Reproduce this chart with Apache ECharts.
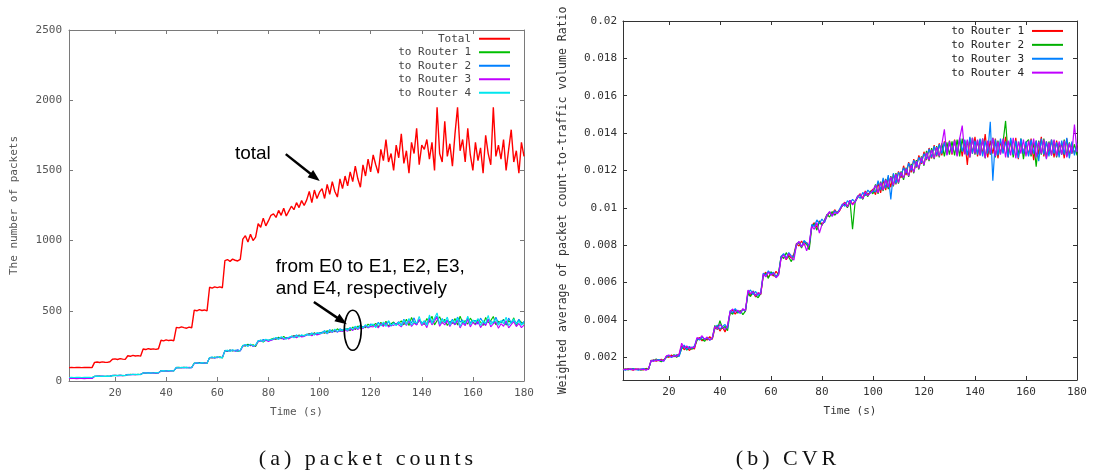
<!DOCTYPE html>
<html><head><meta charset="utf-8">
<script src="https://cdn.jsdelivr.net/npm/echarts@6/dist/echarts.min.js"></script>
<style>
html,body{margin:0;padding:0;background:#fff;}
#wrap{position:relative;width:1096px;height:470px;overflow:hidden;}
#chart{position:absolute;left:0;top:0;width:1096px;height:470px;}
.cap{position:absolute;font-family:"Liberation Serif","DejaVu Serif",serif;font-size:22px;letter-spacing:4px;line-height:22px;color:#111;white-space:nowrap;transform:translateX(-50%);}
</style></head><body>
<div id="wrap"><div id="chart"></div>
<div class="cap" style="left:368px;top:447px;">(a) packet counts</div>
<div class="cap" style="left:788px;top:447px;">(b) CVR</div>
</div>
<script>
const timeSec = [2,3,4,5,6,7,8,9,10,11,12,13,14,15,16,17,18,19,20,21,22,23,24,25,26,27,28,29,30,31,32,33,34,35,36,37,38,39,40,41,42,43,44,45,46,47,48,49,50,51,52,53,54,55,56,57,58,59,60,61,62,63,64,65,66,67,68,69,70,71,72,73,74,75,76,77,78,79,80,81,82,83,84,85,86,87,88,89,90,91,92,93,94,95,96,97,98,99,100,101,102,103,104,105,106,107,108,109,110,111,112,113,114,115,116,117,118,119,120,121,122,123,124,125,126,127,128,129,130,131,132,133,134,135,136,137,138,139,140,141,142,143,144,145,146,147,148,149,150,151,152,153,154,155,156,157,158,159,160,161,162,163,164,165,166,167,168,169,170,171,172,173,174,175,176,177,178,179,180];

const xTickValues = [20,40,60,80,100,120,140,160,180];
const cvrTickValues = [0.002,0.004,0.006,0.008,0.01,0.012,0.014,0.016,0.018,0.02];

const pktNames = ['Total','to Router 1','to Router 2','to Router 3','to Router 4'];
const cvrNames = ['to Router 1','to Router 2','to Router 3','to Router 4'];

const pktTotal = [
95,96,95,97,96,95,96,97,96,95,
133,135,132,136,134,133,137,
155,158,153,159,156,154,
180,176,183,178,181,177,
228,224,231,226,229,225,230,
290,286,293,288,291,287,
382,378,385,380,376,384,379,
505,500,508,502,506,499,
668,662,671,665,670,664,
858,865,852,868,860,855,866,
1010,1035,990,1045,1000,1025,
1120,1095,1160,1105,1140,1180,
1190,1165,1215,1180,1230,1175,1210,
1245,1220,1270,1235,1285,1250,
1290,1350,1270,1360,1300,1345,
1370,1300,1400,1330,1420,1350,1310,1440,1370,1460,
1390,1490,1420,1530,1440,1380,1540,1460,1580,1490,
1610,1540,1480,1650,1570,1720,1560,1620,1500,1680,
1590,1760,1550,1640,1480,1700,1620,1800,1540,1680,
1650,1720,1580,1700,1500,1950,1620,1560,1850,1600,
1690,1530,1760,1950,1640,1720,1560,1800,1610,1500,
1700,1570,1660,1480,1750,1620,1540,1950,1600,1680,
1580,1720,1500,1650,1790,1560,1640,1480,1700,1600];

const pktR1 = [
22,23,24,23,22,24,23,22,24,23,
34,33,35,32,34,33,35,
38,40,39,41,38,40,
45,47,46,44,47,46,
58,56,59,57,60,56,59,
73,71,74,72,75,71,
95,97,94,98,96,95,97,
128,125,131,127,129,124,
168,164,170,166,172,163,
216,211,221,214,219,210,218,
255,248,262,251,258,246,
282,290,278,294,286,297,
304,296,312,300,318,302,308,
315,324,310,328,318,326,
330,338,324,344,332,340,
348,340,358,345,365,350,372,355,362,368,
372,358,385,366,392,375,388,380,405,390,
395,410,385,418,395,425,392,408,420,400,
410,428,400,440,395,452,415,405,432,418,
402,445,418,462,400,430,458,412,440,395,
425,410,445,398,462,415,430,405,448,420,
405,438,420,395,452,415,430,460,400,425,
415,440,398,430,412,450,395,435,418,405];

const pktR2 = [
20,19,20,21,19,20,21,20,19,20,
33,35,34,33,32,35,34,
40,39,38,40,39,41,
47,45,46,48,45,47,
57,58,60,56,59,57,58,
74,72,73,71,74,73,
97,95,96,94,98,96,94,
126,129,127,130,125,128,
166,169,165,171,167,170,
218,213,220,215,217,222,213,
250,258,253,261,248,255,
288,283,295,286,292,290,
298,308,302,312,300,310,305,
320,312,328,316,324,318,
334,328,342,330,338,344,
345,358,342,366,352,360,348,372,362,370,
368,378,362,388,375,398,382,392,378,405,
400,388,418,395,410,402,425,390,415,405,
422,398,440,408,430,415,450,400,438,412,
425,408,452,418,440,462,402,445,415,435,
412,440,400,455,420,435,398,450,415,430,
430,405,448,418,400,440,425,410,455,412,
420,435,402,448,415,430,410,440,400,425];

const pktR3 = [
18,19,18,17,19,18,17,18,19,18,
32,34,33,35,33,32,34,
39,41,38,40,38,39,
46,44,47,45,46,48,
56,58,57,59,56,58,57,
71,73,72,74,71,74,
94,96,95,97,93,97,95,
125,128,126,130,127,129,
165,168,163,170,166,169,
212,217,214,220,211,218,215,
248,256,250,259,247,253,
280,288,284,292,281,290,
296,304,298,310,295,306,300,
312,320,308,322,314,318,
326,335,322,338,328,334,
340,350,336,356,345,362,348,358,352,364,
355,372,360,380,366,388,372,395,380,388,
385,400,378,410,388,415,384,402,396,408,
400,385,420,395,430,388,412,398,440,395,
415,380,440,400,425,455,390,420,400,430,
388,420,400,432,378,412,395,440,385,418,
400,425,380,410,395,440,385,408,420,375,
408,390,430,378,402,422,388,410,380,398];

const pktR4 = [
25,26,25,27,26,25,26,27,26,25,
33,34,32,35,33,34,33,
39,38,40,39,41,38,
46,45,47,46,48,45,
57,59,56,58,57,60,58,
72,74,71,75,73,72,
96,94,98,95,97,93,96,
127,130,125,131,128,126,
167,171,164,172,168,165,
214,220,210,222,216,212,219,
252,260,246,263,250,257,
285,292,280,298,288,295,
300,310,296,315,305,298,312,
318,308,325,314,330,320,
332,325,340,328,345,336,
342,355,338,362,348,370,352,365,358,375,
360,382,368,390,372,395,378,402,385,398,
405,380,412,392,420,388,430,398,410,395,
418,392,435,402,445,398,425,410,460,405,
430,395,470,410,448,485,405,438,420,455,
398,432,415,450,390,428,412,462,400,435,
418,445,395,430,410,468,402,425,440,398,
430,408,455,395,420,442,405,428,398,415];

const cvrR1 = [
0.00137,0.00133,0.00139,0.00135,0.00131,0.00138,0.00134,0.00136,0.00132,0.00140,0.00135,
0.00180,0.00186,0.00178,0.00184,0.00189,0.00181,
0.00205,0.00199,0.00212,0.00203,0.00210,0.00215,
0.00262,0.00240,0.00255,0.00236,0.00250,0.00244,
0.00295,0.00305,0.00288,0.00300,0.00292,0.00310,0.00296,
0.00352,0.00368,0.00340,0.00362,0.00335,0.00370,
0.00438,0.00452,0.00430,0.00448,0.00441,0.00456,0.00445,
0.00552,0.00530,0.00548,0.00522,0.00545,0.00535,
0.00640,0.00655,0.00628,0.00648,0.00635,0.00660,0.00642,
0.00735,0.00750,0.00722,0.00745,0.00730,0.00752,
0.00810,0.00795,0.00822,0.00800,0.00815,0.00790,
0.00905,0.00920,0.00895,0.00930,0.00912,0.00925,
0.00955,0.00975,0.00962,0.00990,0.00970,0.00985,
0.01015,0.01030,0.01005,0.01040,0.01020,0.01035,
0.01060,0.01075,0.01050,0.01090,0.01070,0.01085,0.01100,
0.01070,0.01135,0.01080,0.01150,0.01095,0.01165,0.01110,0.01180,0.01125,0.01195,
0.01160,0.01225,0.01175,0.01245,0.01190,0.01260,0.01215,0.01280,0.01235,0.01300,
0.01255,0.01320,0.01265,0.01335,0.01275,0.01345,0.01280,0.01355,0.01290,0.01360,
0.01285,0.01365,0.01280,0.01370,0.01275,0.01360,0.01230,0.01375,0.01290,0.01380,
0.01275,0.01365,0.01285,0.01395,0.01270,0.01360,0.01290,0.01370,0.01265,0.01355,
0.01295,0.01380,0.01270,0.01360,0.01285,0.01375,0.01260,0.01365,0.01290,0.01350,
0.01280,0.01370,0.01255,0.01360,0.01285,0.01380,0.01275,0.01355,0.01290,0.01365,
0.01270,0.01360,0.01285,0.01350,0.01265,0.01370,0.01280,0.01345,0.01290,0.01340];

const cvrR2 = [
0.00134,0.00138,0.00132,0.00136,0.00139,0.00133,0.00137,0.00131,0.00135,0.00138,0.00134,
0.00184,0.00179,0.00190,0.00182,0.00176,0.00187,
0.00198,0.00208,0.00202,0.00214,0.00200,0.00209,
0.00245,0.00258,0.00238,0.00252,0.00242,0.00256,
0.00290,0.00302,0.00296,0.00285,0.00306,0.00294,0.00300,
0.00370,0.00348,0.00395,0.00355,0.00365,0.00342,
0.00442,0.00430,0.00455,0.00436,0.00450,0.00428,0.00447,
0.00540,0.00525,0.00555,0.00530,0.00518,0.00542,
0.00635,0.00648,0.00622,0.00658,0.00640,0.00630,0.00652,
0.00742,0.00728,0.00760,0.00735,0.00712,0.00745,
0.00798,0.00815,0.00785,0.00820,0.00805,0.00775,
0.00895,0.00915,0.00880,0.00925,0.00905,0.00935,
0.00965,0.00950,0.00980,0.00960,0.00975,0.00990,
0.01010,0.01025,0.01000,0.01035,0.00885,0.01030,
0.01055,0.01070,0.01045,0.01080,0.01060,0.01090,0.01075,
0.01125,0.01075,0.01140,0.01090,0.01155,0.01100,0.01170,0.01115,0.01185,0.01130,
0.01195,0.01150,0.01215,0.01165,0.01235,0.01185,0.01255,0.01205,0.01275,0.01225,
0.01305,0.01250,0.01320,0.01260,0.01330,0.01270,0.01345,0.01275,0.01350,0.01285,
0.01355,0.01280,0.01365,0.01275,0.01370,0.01290,0.01360,0.01270,0.01375,0.01285,
0.01360,0.01280,0.01370,0.01265,0.01355,0.01285,0.01375,0.01270,0.01360,0.01290,
0.01350,0.01465,0.01280,0.01365,0.01270,0.01355,0.01285,0.01370,0.01260,0.01350,
0.01365,0.01275,0.01350,0.01220,0.01360,0.01285,0.01370,0.01265,0.01355,0.01280,
0.01360,0.01270,0.01345,0.01285,0.01365,0.01275,0.01350,0.01290,0.01340,0.01280];

const cvrR3 = [
0.00135,0.00131,0.00137,0.00133,0.00138,0.00134,0.00130,0.00136,0.00139,0.00133,0.00137,
0.00178,0.00185,0.00181,0.00188,0.00183,0.00179,
0.00203,0.00210,0.00198,0.00206,0.00213,0.00204,
0.00250,0.00265,0.00242,0.00258,0.00248,0.00260,
0.00300,0.00292,0.00308,0.00296,0.00304,0.00290,0.00302,
0.00358,0.00372,0.00350,0.00365,0.00375,0.00355,
0.00450,0.00438,0.00460,0.00442,0.00435,0.00455,0.00448,
0.00545,0.00560,0.00535,0.00552,0.00530,0.00548,
0.00650,0.00638,0.00662,0.00645,0.00655,0.00632,0.00648,
0.00740,0.00755,0.00730,0.00760,0.00742,0.00738,
0.00805,0.00818,0.00792,0.00825,0.00810,0.00798,
0.00910,0.00900,0.00935,0.00915,0.00940,0.00920,
0.00960,0.00978,0.00955,0.00985,0.00970,0.00995,
0.01020,0.01008,0.01038,0.01025,0.01045,0.01030,
0.01065,0.01050,0.01082,0.01065,0.01095,0.01078,0.01090,
0.01085,0.01145,0.01095,0.01160,0.01105,0.01175,0.01045,0.01185,0.01130,0.01190,
0.01170,0.01215,0.01185,0.01240,0.01200,0.01255,0.01220,0.01270,0.01240,0.01290,
0.01260,0.01315,0.01270,0.01330,0.01280,0.01340,0.01290,0.01350,0.01285,0.01355,
0.01295,0.01360,0.01285,0.01375,0.01300,0.01365,0.01280,0.01380,0.01290,0.01360,
0.01285,0.01370,0.01275,0.01360,0.01290,0.01460,0.01145,0.01365,0.01280,0.01370,
0.01290,0.01355,0.01270,0.01375,0.01285,0.01360,0.01265,0.01370,0.01290,0.01355,
0.01275,0.01365,0.01290,0.01360,0.01250,0.01370,0.01285,0.01355,0.01275,0.01365,
0.01290,0.01350,0.01270,0.01360,0.01285,0.01375,0.01265,0.01355,0.01280,0.01345];

const cvrR4 = [
0.00133,0.00136,0.00134,0.00139,0.00132,0.00135,0.00138,0.00133,0.00136,0.00131,0.00137,
0.00183,0.00177,0.00186,0.00181,0.00185,0.00180,
0.00207,0.00212,0.00201,0.00209,0.00204,0.00216,
0.00275,0.00248,0.00260,0.00245,0.00255,0.00250,
0.00305,0.00298,0.00315,0.00295,0.00308,0.00292,0.00303,
0.00365,0.00350,0.00375,0.00360,0.00348,0.00368,
0.00445,0.00458,0.00440,0.00452,0.00436,0.00460,0.00450,
0.00560,0.00540,0.00552,0.00528,0.00545,0.00538,
0.00645,0.00630,0.00655,0.00638,0.00650,0.00625,0.00640,
0.00730,0.00748,0.00725,0.00755,0.00735,0.00720,
0.00800,0.00820,0.00790,0.00812,0.00770,0.00808,
0.00900,0.00885,0.00920,0.00865,0.00910,0.00930,
0.00962,0.00980,0.00955,0.00975,0.00968,0.00988,
0.01012,0.01028,0.01005,0.01040,0.01015,0.01032,
0.01058,0.01072,0.01048,0.01085,0.01065,0.01080,0.01095,
0.01120,0.01080,0.01135,0.01095,0.01150,0.01110,0.01165,0.01120,0.01180,0.01135,
0.01190,0.01160,0.01210,0.01170,0.01230,0.01190,0.01250,0.01210,0.01270,0.01230,
0.01295,0.01255,0.01310,0.01265,0.01325,0.01275,0.01340,0.01420,0.01280,0.01350,
0.01290,0.01360,0.01275,0.01370,0.01440,0.01285,0.01365,0.01270,0.01375,0.01290,
0.01365,0.01280,0.01370,0.01265,0.01360,0.01290,0.01375,0.01275,0.01355,0.01285,
0.01370,0.01270,0.01360,0.01280,0.01375,0.01265,0.01355,0.01290,0.01365,0.01275,
0.01360,0.01285,0.01370,0.01270,0.01355,0.01290,0.01365,0.01260,0.01350,0.01280,
0.01365,0.01275,0.01355,0.01285,0.01360,0.01270,0.01345,0.01290,0.01445,0.01300];

// annotation anchors (data coordinates of left panel)
const annotTotalText = [66.9, 1616];
const annotTotalArrow = [[86.8, 1616], [100.1, 1424]];
const annotRouterText = [82.9, 891];
const annotRouterArrow = [[97.8, 563], [110.7, 404]];
const annotEllipse = [113.0, 361];

const MONO = '"DejaVu Sans Mono", "Liberation Mono", monospace';
const SANS = '"Liberation Sans", Arial, sans-serif';
const leftColors = ['#ff0000', '#00c000', '#0080ff', '#c000ff', '#00e6ee'];
const rightColors = ['#ff0000', '#00b000', '#0080ff', '#c000ff'];

function pairs(vals) { return timeSec.map((t, i) => [t, vals[i]]); }

const chart = echarts.init(document.getElementById('chart'), null, {renderer: 'canvas'});

function xAxes(grid, color, labelColor, bottom) {
  return {
    gridIndex: grid, type: 'value', min: 2, max: 180, position: bottom ? 'bottom' : 'top',
    axisLine: {show: true, onZero: false, lineStyle: {color: color, width: 1}},
    axisTick: {show: true, inside: true, length: 4, customValues: xTickValues, lineStyle: {color: color}},
    axisLabel: {show: bottom, customValues: xTickValues, margin: 7, fontFamily: MONO, fontSize: 11, color: labelColor},
    splitLine: {show: false},
    name: bottom ? 'Time (s)' : '', nameLocation: 'middle', nameGap: 26,
    nameTextStyle: {fontFamily: MONO, fontSize: 11, color: labelColor}
  };
}

const pktSeriesVals = [pktTotal, pktR1, pktR2, pktR3, pktR4];
const cvrSeriesVals = [cvrR1, cvrR2, cvrR3, cvrR4];

const series = [];
pktNames.forEach((n, i) => series.push({
  name: n, type: 'line', xAxisIndex: 0, yAxisIndex: 0, data: pairs(pktSeriesVals[i]),
  showSymbol: false, symbol: 'none', lineStyle: {width: i === 0 ? 1.4 : 1.1, color: leftColors[i]},
  itemStyle: {color: leftColors[i]}, animation: false, z: 2 + i
}));
cvrNames.forEach((n, i) => series.push({
  name: '(b) ' + n, type: 'line', xAxisIndex: 2, yAxisIndex: 2, data: pairs(cvrSeriesVals[i]),
  showSymbol: false, symbol: 'none', lineStyle: {width: 1.2, color: rightColors[i]},
  itemStyle: {color: rightColors[i]}, animation: false, z: 2 + i
}));

const legendCommon = {
  orient: 'vertical', align: 'right', itemWidth: 31, itemHeight: 2, itemGap: 0, icon: 'rect',
  selectedMode: false, padding: 0
};

chart.setOption({
  animation: false,
  backgroundColor: '#ffffff',
  grid: [
    {left: 69, top: 30, width: 455, height: 351, outerBoundsMode: 'none', containLabel: false},
    {left: 623, top: 21, width: 454, height: 359, outerBoundsMode: 'none', containLabel: false}
  ],
  xAxis: [
    xAxes(0, '#7a7a7a', '#555', true),
    xAxes(0, '#7a7a7a', '#555', false),
    xAxes(1, '#333', '#333', true),
    xAxes(1, '#333', '#333', false)
  ],
  yAxis: [
    {gridIndex: 0, type: 'value', min: 0, max: 2500, interval: 500, position: 'left',
     axisLine: {show: true, onZero: false, lineStyle: {color: '#7a7a7a'}},
     axisTick: {show: true, inside: true, length: 4, lineStyle: {color: '#7a7a7a'}},
     axisLabel: {margin: 7, fontFamily: MONO, fontSize: 11, color: '#555', formatter: v => String(v)},
     splitLine: {show: false},
     name: 'The number of packets', nameLocation: 'middle', nameGap: 49,
     nameTextStyle: {fontFamily: MONO, fontSize: 11, color: '#555'}},
    {gridIndex: 0, type: 'value', min: 0, max: 2500, interval: 500, position: 'right',
     axisLine: {show: true, onZero: false, lineStyle: {color: '#7a7a7a'}},
     axisTick: {show: true, inside: true, length: 4, lineStyle: {color: '#7a7a7a'}},
     axisLabel: {show: false}, splitLine: {show: false}},
    {gridIndex: 1, type: 'value', min: 0.00078, max: 0.02, position: 'left',
     axisLine: {show: true, onZero: false, lineStyle: {color: '#333'}},
     axisTick: {show: true, inside: true, length: 4, customValues: cvrTickValues, lineStyle: {color: '#333'}},
     axisLabel: {customValues: cvrTickValues, margin: 6, fontFamily: MONO, fontSize: 11, color: '#333', formatter: v => String(v)},
     splitLine: {show: false},
     name: 'Weighted average of packet count-to-traffic volume Ratio', nameLocation: 'middle', nameGap: 54,
     nameTextStyle: {fontFamily: MONO, fontSize: 11.5, color: '#333'}},
    {gridIndex: 1, type: 'value', min: 0.00078, max: 0.02, position: 'right',
     axisLine: {show: true, onZero: false, lineStyle: {color: '#333'}},
     axisTick: {show: true, inside: true, length: 4, customValues: cvrTickValues, lineStyle: {color: '#333'}},
     axisLabel: {show: false}, splitLine: {show: false}}
  ],
  legend: [
    Object.assign({}, legendCommon, {
      data: pktNames, right: 586, top: 32,
      textStyle: {fontFamily: MONO, fontSize: 11, color: '#444', lineHeight: 13.5, padding: [0, 3, 0, 0]}
    }),
    Object.assign({}, legendCommon, {
      data: cvrNames.map(n => '(b) ' + n), right: 33, top: 24,
      formatter: n => n.replace('(b) ', ''),
      textStyle: {fontFamily: MONO, fontSize: 11, color: '#222', lineHeight: 13.9, padding: [0, 3, 0, 0]}
    })
  ],
  series: series
});

// annotations (positions converted from data coords of the left panel)
function px(pt) { return chart.convertToPixel({gridIndex: 0}, pt); }
function arrow(a, b, width, headLen, headW) {
  const p0 = px(a), p1 = px(b);
  const dx = p1[0] - p0[0], dy = p1[1] - p0[1];
  const L = Math.sqrt(dx * dx + dy * dy), ux = dx / L, uy = dy / L;
  const bx = p1[0] - ux * headLen, by = p1[1] - uy * headLen;
  return [
    {type: 'line', z: 100, shape: {x1: p0[0], y1: p0[1], x2: bx + ux, y2: by + uy},
     style: {stroke: '#000', lineWidth: width}},
    {type: 'polygon', z: 100, shape: {points: [[p1[0], p1[1]], [bx - uy * headW / 2, by + ux * headW / 2], [bx + uy * headW / 2, by - ux * headW / 2]]},
     style: {fill: '#000'}}
  ];
}
const tp = px(annotTotalText), rp = px(annotRouterText), ep = px(annotEllipse);
const graphics = [
  {type: 'text', z: 100, x: tp[0], y: tp[1],
   style: {text: 'total', font: '19px ' + SANS, fill: '#000', align: 'left', verticalAlign: 'middle'}},
  {type: 'text', z: 100, x: rp[0], y: rp[1],
   style: {text: 'from E0 to E1, E2, E3,\nand E4, respectively', font: '19px ' + SANS, lineHeight: 22, fill: '#000', align: 'left', verticalAlign: 'top'}},
  {type: 'ellipse', z: 100, shape: {cx: ep[0], cy: ep[1], rx: 8.5, ry: 20},
   style: {stroke: '#000', fill: 'none', lineWidth: 1.6}}
].concat(arrow(annotTotalArrow[0], annotTotalArrow[1], 2.5, 12, 9))
 .concat(arrow(annotRouterArrow[0], annotRouterArrow[1], 2.5, 12, 9));
chart.setOption({graphic: graphics});
</script>
</body></html>
